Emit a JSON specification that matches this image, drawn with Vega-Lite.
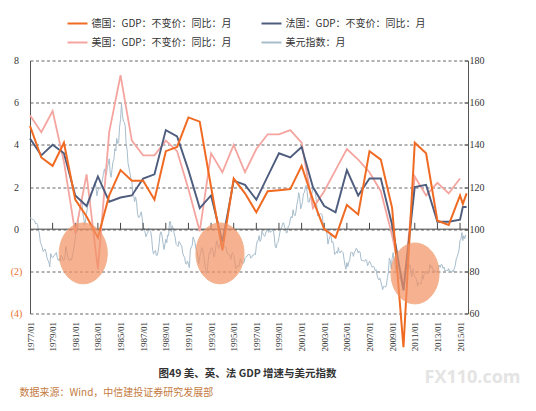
{
  "$schema": "https://vega.github.io/schema/vega-lite/v6.json",
  "width": 438,
  "height": 253,
  "autosize": {"type": "none"},
  "padding": {"left": 30, "top": 60.5, "right": 68, "bottom": 97.5},
  "background": "white",
  "config": {"view": {"stroke": null}, "axisX": {"labelOverlap": false}},
  "datasets": {
    "gdp": [
      {"d": "1977-01-01", "de": 4.9, "fr": 4.3, "us": 5.4},
      {"d": "1978-01-01", "de": 3.4, "fr": 3.5, "us": 4.6},
      {"d": "1979-01-01", "de": 3.0, "fr": 4.0, "us": 5.6},
      {"d": "1980-01-01", "de": 4.1, "fr": 3.6, "us": 3.2},
      {"d": "1981-01-01", "de": 1.4, "fr": 1.6, "us": -0.2},
      {"d": "1982-01-01", "de": 0.6, "fr": 1.1, "us": 2.6},
      {"d": "1983-01-01", "de": -0.4, "fr": 2.5, "us": -1.9},
      {"d": "1984-01-01", "de": 1.6, "fr": 1.3, "us": 4.6},
      {"d": "1985-01-01", "de": 2.8, "fr": 1.5, "us": 7.3},
      {"d": "1986-01-01", "de": 2.3, "fr": 1.6, "us": 4.2},
      {"d": "1987-01-01", "de": 2.3, "fr": 2.4, "us": 3.5},
      {"d": "1988-01-01", "de": 1.4, "fr": 2.6, "us": 3.5},
      {"d": "1989-01-01", "de": 3.7, "fr": 4.7, "us": 4.2},
      {"d": "1990-01-01", "de": 3.9, "fr": 4.4, "us": 3.7},
      {"d": "1991-01-01", "de": 5.3, "fr": 2.8, "us": 1.9},
      {"d": "1992-01-01", "de": 5.1, "fr": 1.0, "us": -0.1},
      {"d": "1993-01-01", "de": 2.0, "fr": 1.6, "us": 3.6},
      {"d": "1994-01-01", "de": -1.0, "fr": -0.6, "us": 2.7},
      {"d": "1995-01-01", "de": 2.4, "fr": 2.3, "us": 4.0},
      {"d": "1996-01-01", "de": 1.7, "fr": 2.1, "us": 2.7},
      {"d": "1997-01-01", "de": 0.8, "fr": 1.4, "us": 3.8},
      {"d": "1998-01-01", "de": 1.8, "fr": 2.5, "us": 4.5},
      {"d": "1999-01-01", "de": 1.85, "fr": 3.6, "us": 4.5},
      {"d": "2000-01-01", "de": 1.9, "fr": 3.4, "us": 4.7},
      {"d": "2001-01-01", "de": 3.0, "fr": 3.9, "us": 4.1},
      {"d": "2002-01-01", "de": 1.4, "fr": 2.0, "us": 1.0},
      {"d": "2003-01-01", "de": 0.0, "fr": 1.1, "us": 1.8},
      {"d": "2004-01-01", "de": -0.4, "fr": 0.8, "us": 2.8},
      {"d": "2005-01-01", "de": 1.15, "fr": 2.8, "us": 3.8},
      {"d": "2006-01-01", "de": 0.7, "fr": 1.6, "us": 3.3},
      {"d": "2007-01-01", "de": 3.7, "fr": 2.4, "us": 2.7},
      {"d": "2008-01-01", "de": 3.3, "fr": 2.4, "us": 1.8},
      {"d": "2009-01-01", "de": 1.0, "fr": 0.2, "us": -0.3},
      {"d": "2010-01-01", "de": -5.6, "fr": -2.9, "us": -2.8},
      {"d": "2011-01-01", "de": 4.1, "fr": 2.0, "us": 2.5},
      {"d": "2012-01-01", "de": 3.6, "fr": 2.1, "us": 1.6},
      {"d": "2013-01-01", "de": 0.4, "fr": 0.35, "us": 2.2},
      {"d": "2014-01-01", "de": 0.2, "fr": 0.35, "us": 1.7},
      {"d": "2015-01-01", "de": 1.6, "fr": 0.45, "us": 2.4},
      {"d": "2015-04-01", "de": 1.2, "fr": 1.05},
      {"d": "2015-08-01", "de": 1.7, "fr": 1.05}
    ],
    "dxy": [
      {"d":"1977-01","u":105.4},{"d":"1977-02","u":105.2},{"d":"1977-03","u":104.8},{"d":"1977-04","u":104.6},{"d":"1977-05","u":104.3},{"d":"1977-06","u":103.9},{"d":"1977-07","u":102.4},{"d":"1977-08","u":102.9},{"d":"1977-09","u":102.2},{"d":"1977-10","u":99.6},{"d":"1977-11","u":97.8},{"d":"1977-12","u":93.8},
      {"d":"1978-01","u":92.6},{"d":"1978-02","u":91.4},{"d":"1978-03","u":89.4},{"d":"1978-04","u":90.2},{"d":"1978-05","u":90.6},{"d":"1978-06","u":89.1},{"d":"1978-07","u":86.6},{"d":"1978-08","u":85.3},{"d":"1978-09","u":84.4},{"d":"1978-10","u":82.1},{"d":"1978-11","u":88.4},{"d":"1978-12","u":86.9},
      {"d":"1979-01","u":86.4},{"d":"1979-02","u":87.3},{"d":"1979-03","u":87.5},{"d":"1979-04","u":88.4},{"d":"1979-05","u":88.9},{"d":"1979-06","u":86.5},{"d":"1979-07","u":85.2},{"d":"1979-08","u":86.0},{"d":"1979-09","u":84.7},{"d":"1979-10","u":87.5},{"d":"1979-11","u":86.9},{"d":"1979-12","u":85.3},
      {"d":"1980-01","u":85.2},{"d":"1980-02","u":86.3},{"d":"1980-03","u":91.9},{"d":"1980-04","u":89.7},{"d":"1980-05","u":87.3},{"d":"1980-06","u":85.3},{"d":"1980-07","u":85.0},{"d":"1980-08","u":86.1},{"d":"1980-09","u":85.3},{"d":"1980-10","u":87.5},{"d":"1980-11","u":89.7},{"d":"1980-12","u":92.4},
      {"d":"1981-01","u":95.7},{"d":"1981-02","u":99.4},{"d":"1981-03","u":98.6},{"d":"1981-04","u":102.3},{"d":"1981-05","u":107.6},{"d":"1981-06","u":109.1},{"d":"1981-07","u":113.0},{"d":"1981-08","u":114.6},{"d":"1981-09","u":107.6},{"d":"1981-10","u":105.3},{"d":"1981-11","u":101.9},{"d":"1981-12","u":104.5},
      {"d":"1982-01","u":107.6},{"d":"1982-02","u":110.5},{"d":"1982-03","u":112.7},{"d":"1982-04","u":113.4},{"d":"1982-05","u":112.6},{"d":"1982-06","u":117.6},{"d":"1982-07","u":117.4},{"d":"1982-08","u":118.9},{"d":"1982-09","u":121.3},{"d":"1982-10","u":122.5},{"d":"1982-11","u":119.7},{"d":"1982-12","u":115.8},
      {"d":"1983-01","u":118.2},{"d":"1983-02","u":119.3},{"d":"1983-03","u":119.5},{"d":"1983-04","u":119.2},{"d":"1983-05","u":121.6},{"d":"1983-06","u":123.8},{"d":"1983-07","u":126.4},{"d":"1983-08","u":128.6},{"d":"1983-09","u":126.0},{"d":"1983-10","u":125.8},{"d":"1983-11","u":129.4},{"d":"1983-12","u":131.0},
      {"d":"1984-01","u":133.4},{"d":"1984-02","u":127.0},{"d":"1984-03","u":124.6},{"d":"1984-04","u":128.3},{"d":"1984-05","u":131.8},{"d":"1984-06","u":133.2},{"d":"1984-07","u":138.2},{"d":"1984-08","u":137.1},{"d":"1984-09","u":143.0},{"d":"1984-10","u":140.6},{"d":"1984-11","u":141.1},{"d":"1984-12","u":148.4},
      {"d":"1985-01","u":152.0},{"d":"1985-02","u":159.6},{"d":"1985-03","u":154.7},{"d":"1985-04","u":151.2},{"d":"1985-05","u":150.8},{"d":"1985-06","u":148.9},{"d":"1985-07","u":140.2},{"d":"1985-08","u":137.7},{"d":"1985-09","u":131.2},{"d":"1985-10","u":129.0},{"d":"1985-11","u":126.6},{"d":"1985-12","u":123.9},
      {"d":"1986-01","u":122.8},{"d":"1986-02","u":116.7},{"d":"1986-03","u":116.0},{"d":"1986-04","u":113.0},{"d":"1986-05","u":115.3},{"d":"1986-06","u":113.2},{"d":"1986-07","u":107.6},{"d":"1986-08","u":105.6},{"d":"1986-09","u":105.7},{"d":"1986-10","u":106.8},{"d":"1986-11","u":108.2},{"d":"1986-12","u":105.2},
      {"d":"1987-01","u":99.8},{"d":"1987-02","u":100.6},{"d":"1987-03","u":98.7},{"d":"1987-04","u":96.4},{"d":"1987-05","u":97.7},{"d":"1987-06","u":98.3},{"d":"1987-07","u":100.5},{"d":"1987-08","u":99.4},{"d":"1987-09","u":98.8},{"d":"1987-10","u":96.2},{"d":"1987-11","u":90.5},{"d":"1987-12","u":88.2},
      {"d":"1988-01","u":89.4},{"d":"1988-02","u":89.9},{"d":"1988-03","u":87.6},{"d":"1988-04","u":87.6},{"d":"1988-05","u":89.6},{"d":"1988-06","u":93.3},{"d":"1988-07","u":97.7},{"d":"1988-08","u":98.8},{"d":"1988-09","u":96.9},{"d":"1988-10","u":93.6},{"d":"1988-11","u":90.4},{"d":"1988-12","u":92.5},
      {"d":"1989-01","u":95.2},{"d":"1989-02","u":93.6},{"d":"1989-03","u":97.2},{"d":"1989-04","u":96.9},{"d":"1989-05","u":103.5},{"d":"1989-06","u":103.6},{"d":"1989-07","u":98.8},{"d":"1989-08","u":101.6},{"d":"1989-09","u":100.0},{"d":"1989-10","u":97.7},{"d":"1989-11","u":96.0},{"d":"1989-12","u":92.8},
      {"d":"1990-01","u":92.3},{"d":"1990-02","u":91.8},{"d":"1990-03","u":94.2},{"d":"1990-04","u":93.5},{"d":"1990-05","u":92.5},{"d":"1990-06","u":92.0},{"d":"1990-07","u":88.6},{"d":"1990-08","u":87.3},{"d":"1990-09","u":86.7},{"d":"1990-10","u":83.7},{"d":"1990-11","u":83.4},{"d":"1990-12","u":84.9},
      {"d":"1991-01","u":83.4},{"d":"1991-02","u":81.7},{"d":"1991-03","u":89.8},{"d":"1991-04","u":91.6},{"d":"1991-05","u":92.1},{"d":"1991-06","u":96.3},{"d":"1991-07","u":95.0},{"d":"1991-08","u":93.6},{"d":"1991-09","u":90.6},{"d":"1991-10","u":89.8},{"d":"1991-11","u":86.5},{"d":"1991-12","u":83.7},
      {"d":"1992-01","u":86.9},{"d":"1992-02","u":88.9},{"d":"1992-03","u":91.2},{"d":"1992-04","u":90.7},{"d":"1992-05","u":88.2},{"d":"1992-06","u":85.0},{"d":"1992-07","u":81.6},{"d":"1992-08","u":79.0},{"d":"1992-09","u":80.1},{"d":"1992-10","u":85.3},{"d":"1992-11","u":88.8},{"d":"1992-12","u":88.5},
      {"d":"1993-01","u":90.9},{"d":"1993-02","u":91.2},{"d":"1993-03","u":89.6},{"d":"1993-04","u":86.7},{"d":"1993-05","u":87.9},{"d":"1993-06","u":91.8},{"d":"1993-07","u":94.5},{"d":"1993-08","u":92.6},{"d":"1993-09","u":90.8},{"d":"1993-10","u":92.5},{"d":"1993-11","u":93.6},{"d":"1993-12","u":93.2},
      {"d":"1994-01","u":94.2},{"d":"1994-02","u":92.8},{"d":"1994-03","u":91.9},{"d":"1994-04","u":91.3},{"d":"1994-05","u":91.5},{"d":"1994-06","u":88.8},{"d":"1994-07","u":88.1},{"d":"1994-08","u":88.1},{"d":"1994-09","u":87.3},{"d":"1994-10","u":85.7},{"d":"1994-11","u":88.5},{"d":"1994-12","u":88.8},
      {"d":"1995-01","u":87.5},{"d":"1995-02","u":85.4},{"d":"1995-03","u":81.2},{"d":"1995-04","u":81.5},{"d":"1995-05","u":82.8},{"d":"1995-06","u":82.3},{"d":"1995-07","u":82.6},{"d":"1995-08","u":86.0},{"d":"1995-09","u":84.9},{"d":"1995-10","u":84.0},{"d":"1995-11","u":83.8},{"d":"1995-12","u":84.1},
      {"d":"1996-01","u":86.4},{"d":"1996-02","u":86.9},{"d":"1996-03","u":87.0},{"d":"1996-04","u":87.8},{"d":"1996-05","u":88.0},{"d":"1996-06","u":88.0},{"d":"1996-07","u":86.3},{"d":"1996-08","u":86.5},{"d":"1996-09","u":87.6},{"d":"1996-10","u":87.6},{"d":"1996-11","u":88.3},{"d":"1996-12","u":87.9},
      {"d":"1997-01","u":92.1},{"d":"1997-02","u":94.4},{"d":"1997-03","u":94.6},{"d":"1997-04","u":96.9},{"d":"1997-05","u":94.2},{"d":"1997-06","u":95.1},{"d":"1997-07","u":99.2},{"d":"1997-08","u":98.0},{"d":"1997-09","u":97.0},{"d":"1997-10","u":96.6},{"d":"1997-11","u":98.2},{"d":"1997-12","u":99.6},
      {"d":"1998-01","u":99.8},{"d":"1998-02","u":98.5},{"d":"1998-03","u":100.0},{"d":"1998-04","u":98.5},{"d":"1998-05","u":99.0},{"d":"1998-06","u":99.3},{"d":"1998-07","u":99.6},{"d":"1998-08","u":96.8},{"d":"1998-09","u":91.9},{"d":"1998-10","u":91.1},{"d":"1998-11","u":93.3},{"d":"1998-12","u":93.8},
      {"d":"1999-01","u":96.0},{"d":"1999-02","u":98.6},{"d":"1999-03","u":100.1},{"d":"1999-04","u":101.0},{"d":"1999-05","u":102.8},{"d":"1999-06","u":103.0},{"d":"1999-07","u":100.9},{"d":"1999-08","u":100.3},{"d":"1999-09","u":98.1},{"d":"1999-10","u":98.7},{"d":"1999-11","u":101.6},{"d":"1999-12","u":101.9},
      {"d":"2000-01","u":104.8},{"d":"2000-02","u":106.0},{"d":"2000-03","u":105.3},{"d":"2000-04","u":109.2},{"d":"2000-05","u":106.8},{"d":"2000-06","u":106.3},{"d":"2000-07","u":108.1},{"d":"2000-08","u":111.7},{"d":"2000-09","u":113.9},{"d":"2000-10","u":117.3},{"d":"2000-11","u":114.7},{"d":"2000-12","u":109.6},
      {"d":"2001-01","u":110.9},{"d":"2001-02","u":113.2},{"d":"2001-03","u":117.0},{"d":"2001-04","u":117.3},{"d":"2001-05","u":119.9},{"d":"2001-06","u":120.8},{"d":"2001-07","u":117.2},{"d":"2001-08","u":112.9},{"d":"2001-09","u":112.8},{"d":"2001-10","u":115.0},{"d":"2001-11","u":116.2},{"d":"2001-12","u":116.8},
      {"d":"2002-01","u":120.2},{"d":"2002-02","u":118.6},{"d":"2002-03","u":118.7},{"d":"2002-04","u":116.2},{"d":"2002-05","u":112.0},{"d":"2002-06","u":106.2},{"d":"2002-07","u":106.7},{"d":"2002-08","u":107.0},{"d":"2002-09","u":107.3},{"d":"2002-10","u":107.3},{"d":"2002-11","u":106.3},{"d":"2002-12","u":102.0},
      {"d":"2003-01","u":100.7},{"d":"2003-02","u":99.5},{"d":"2003-03","u":99.5},{"d":"2003-04","u":97.6},{"d":"2003-05","u":92.9},{"d":"2003-06","u":95.0},{"d":"2003-07","u":96.5},{"d":"2003-08","u":98.0},{"d":"2003-09","u":93.7},{"d":"2003-10","u":94.2},{"d":"2003-11","u":92.6},{"d":"2003-12","u":88.0},
      {"d":"2004-01","u":88.5},{"d":"2004-02","u":89.4},{"d":"2004-03","u":88.5},{"d":"2004-04","u":91.3},{"d":"2004-05","u":89.2},{"d":"2004-06","u":88.7},{"d":"2004-07","u":89.7},{"d":"2004-08","u":89.4},{"d":"2004-09","u":88.9},{"d":"2004-10","u":85.8},{"d":"2004-11","u":82.9},{"d":"2004-12","u":81.0},
      {"d":"2005-01","u":84.1},{"d":"2005-02","u":82.2},{"d":"2005-03","u":84.4},{"d":"2005-04","u":84.9},{"d":"2005-05","u":88.7},{"d":"2005-06","u":89.2},{"d":"2005-07","u":88.7},{"d":"2005-08","u":87.1},{"d":"2005-09","u":89.3},{"d":"2005-10","u":89.6},{"d":"2005-11","u":91.0},{"d":"2005-12","u":90.3},
      {"d":"2006-01","u":88.7},{"d":"2006-02","u":89.6},{"d":"2006-03","u":89.2},{"d":"2006-04","u":85.9},{"d":"2006-05","u":85.0},{"d":"2006-06","u":85.3},{"d":"2006-07","u":84.8},{"d":"2006-08","u":84.8},{"d":"2006-09","u":85.6},{"d":"2006-10","u":85.0},{"d":"2006-11","u":82.7},{"d":"2006-12","u":83.6},
      {"d":"2007-01","u":84.8},{"d":"2007-02","u":84.0},{"d":"2007-03","u":82.9},{"d":"2007-04","u":81.9},{"d":"2007-05","u":82.5},{"d":"2007-06","u":82.0},{"d":"2007-07","u":80.4},{"d":"2007-08","u":80.9},{"d":"2007-09","u":78.2},{"d":"2007-10","u":76.8},{"d":"2007-11","u":75.9},{"d":"2007-12","u":76.7},
      {"d":"2008-01","u":75.2},{"d":"2008-02","u":73.3},{"d":"2008-03","u":71.3},{"d":"2008-04","u":72.9},{"d":"2008-05","u":72.9},{"d":"2008-06","u":72.5},{"d":"2008-07","u":73.5},{"d":"2008-08","u":77.1},{"d":"2008-09","u":79.3},{"d":"2008-10","u":86.3},{"d":"2008-11","u":85.2},{"d":"2008-12","u":81.3},
      {"d":"2009-01","u":86.1},{"d":"2009-02","u":88.9},{"d":"2009-03","u":85.5},{"d":"2009-04","u":84.2},{"d":"2009-05","u":80.4},{"d":"2009-06","u":80.2},{"d":"2009-07","u":78.9},{"d":"2009-08","u":78.3},{"d":"2009-09","u":76.7},{"d":"2009-10","u":75.9},{"d":"2009-11","u":74.8},{"d":"2009-12","u":77.9},
      {"d":"2010-01","u":79.4},{"d":"2010-02","u":80.3},{"d":"2010-03","u":81.1},{"d":"2010-04","u":81.8},{"d":"2010-05","u":86.7},{"d":"2010-06","u":86.1},{"d":"2010-07","u":81.8},{"d":"2010-08","u":83.1},{"d":"2010-09","u":78.7},{"d":"2010-10","u":77.4},{"d":"2010-11","u":81.2},{"d":"2010-12","u":79.0},
      {"d":"2011-01","u":77.3},{"d":"2011-02","u":76.9},{"d":"2011-03","u":76.0},{"d":"2011-04","u":73.0},{"d":"2011-05","u":74.6},{"d":"2011-06","u":74.3},{"d":"2011-07","u":74.2},{"d":"2011-08","u":74.2},{"d":"2011-09","u":78.5},{"d":"2011-10","u":76.3},{"d":"2011-11","u":78.7},{"d":"2011-12","u":80.2},
      {"d":"2012-01","u":79.0},{"d":"2012-02","u":78.8},{"d":"2012-03","u":79.1},{"d":"2012-04","u":79.4},{"d":"2012-05","u":83.3},{"d":"2012-06","u":81.6},{"d":"2012-07","u":82.6},{"d":"2012-08","u":81.2},{"d":"2012-09","u":79.9},{"d":"2012-10","u":80.2},{"d":"2012-11","u":80.2},{"d":"2012-12","u":79.8},
      {"d":"2013-01","u":79.3},{"d":"2013-02","u":81.9},{"d":"2013-03","u":83.0},{"d":"2013-04","u":81.8},{"d":"2013-05","u":83.3},{"d":"2013-06","u":83.1},{"d":"2013-07","u":81.4},{"d":"2013-08","u":82.1},{"d":"2013-09","u":80.2},{"d":"2013-10","u":80.2},{"d":"2013-11","u":80.7},{"d":"2013-12","u":80.2},
      {"d":"2014-01","u":81.3},{"d":"2014-02","u":79.8},{"d":"2014-03","u":80.1},{"d":"2014-04","u":79.5},{"d":"2014-05","u":80.4},{"d":"2014-06","u":79.8},{"d":"2014-07","u":81.5},{"d":"2014-08","u":82.8},{"d":"2014-09","u":85.9},{"d":"2014-10","u":86.9},{"d":"2014-11","u":88.4},{"d":"2014-12","u":90.3},
      {"d":"2015-01","u":94.8},{"d":"2015-02","u":95.3},{"d":"2015-03","u":98.4},{"d":"2015-04","u":94.6},{"d":"2015-05","u":96.9},{"d":"2015-06","u":95.5},{"d":"2015-07","u":97.3}
    ],
    "ticks": [
      {"t":"1979-01-01"},{"t":"1981-01-01"},{"t":"1983-01-01"},{"t":"1985-01-01"},{"t":"1987-01-01"},{"t":"1989-01-01"},{"t":"1991-01-01"},{"t":"1993-01-01"},{"t":"1995-01-01"},{"t":"1997-01-01"},{"t":"1999-01-01"},{"t":"2001-01-01"},{"t":"2003-01-01"},{"t":"2005-01-01"},{"t":"2007-01-01"},{"t":"2009-01-01"},{"t":"2011-01-01"},{"t":"2013-01-01"},{"t":"2015-01-01"}
    ],
    "circles": [
      {"d": "1981-09-15", "v": -1.15},
      {"d": "1993-10-15", "v": -1.15},
      {"d": "2011-01-10", "v": -2.1}
    ],
    "zero": [{"z": 0}]
  },
  "layer": [
    {
      "data": {"name": "dxy"},
      "mark": {"type": "line", "strokeWidth": 1},
      "encoding": {
        "x": {
          "field": "d", "type": "temporal",
          "title": "图49   美、英、法 GDP 增速与美元指数",
          "scale": {"type": "utc", "domain": [{"year": 1977, "month": 1, "date": 1, "utc": true}, {"year": 2015, "month": 9, "date": 15, "utc": true}]},
          "axis": {
            "values": [
              {"year":1977,"month":1,"date":1,"utc":true},{"year":1979,"month":1,"date":1,"utc":true},{"year":1981,"month":1,"date":1,"utc":true},{"year":1983,"month":1,"date":1,"utc":true},{"year":1985,"month":1,"date":1,"utc":true},{"year":1987,"month":1,"date":1,"utc":true},{"year":1989,"month":1,"date":1,"utc":true},{"year":1991,"month":1,"date":1,"utc":true},{"year":1993,"month":1,"date":1,"utc":true},{"year":1995,"month":1,"date":1,"utc":true},{"year":1997,"month":1,"date":1,"utc":true},{"year":1999,"month":1,"date":1,"utc":true},{"year":2001,"month":1,"date":1,"utc":true},{"year":2003,"month":1,"date":1,"utc":true},{"year":2005,"month":1,"date":1,"utc":true},{"year":2007,"month":1,"date":1,"utc":true},{"year":2009,"month":1,"date":1,"utc":true},{"year":2011,"month":1,"date":1,"utc":true},{"year":2013,"month":1,"date":1,"utc":true},{"year":2015,"month":1,"date":1,"utc":true}
            ],
            "tickCount": 40,
            "format": "%Y/%m",
            "labelAngle": 270,
            "labelPadding": 8,
            "labelFont": "Liberation Serif",
            "labelFontSize": 9,
            "labelColor": "#333",
            "labelFlush": false,
            "labelOverlap": false,
            "labelBound": false,
            "ticks": false,
            "domain": false,
            "grid": false,
            "titleFont": "Noto Sans CJK SC",
            "titleFontSize": 10.5,
            "titleFontWeight": "bold",
            "titleColor": "#333",
            "titleAngle": 0,
            "titleAlign": "center",
            "titleBaseline": "middle",
            "titleX": 217,
            "titleY": 60
          }
        },
        "y": {
          "field": "u", "type": "quantitative",
          "title": "FX110.com",
          "scale": {"domain": [60, 180], "nice": false, "zero": false},
          "axis": {
            "orient": "right",
            "values": [60, 80, 100, 120, 140, 160, 180],
            "tickCount": 20,
            "format": "d",
            "grid": false,
            "domain": true,
            "domainColor": "#555",
            "ticks": true,
            "tickSize": -4,
            "tickColor": "#555",
            "labelPadding": 5,
            "labelFont": "Liberation Serif",
            "labelFontSize": 10,
            "labelColor": "#333",
            "titleFont": "Open Sans",
            "titleFontSize": 18,
            "titleFontWeight": "bold",
            "titleColor": "#e4e4e4",
            "titleAngle": 0,
            "titleAlign": "center",
            "titleBaseline": "middle",
            "titleX": 4,
            "titleY": 317
          }
        },
        "color": {"datum": "dxy"}
      }
    },
    {
      "data": {"name": "zero"},
      "mark": {"type": "rule", "color": "#444", "strokeWidth": 1},
      "encoding": {
        "y": {"field": "z", "type": "quantitative", "scale": {"domain": [-4, 8], "nice": false, "zero": false}, "axis": null}
      }
    },
    {
      "data": {"name": "ticks"},
      "mark": {"type": "rule", "color": "#444", "strokeWidth": 1},
      "encoding": {
        "x": {"field": "t", "type": "temporal"},
        "y": {"datum": 0, "scale": {"domain": [-4, 8], "nice": false, "zero": false}, "axis": null},
        "y2": {"datum": 0.3}
      }
    },
    {
      "data": {"name": "gdp"},
      "transform": [{"fold": ["us", "fr", "de"], "as": ["s", "v"]}],
      "mark": {"type": "line"},
      "encoding": {
        "x": {"field": "d", "type": "temporal"},
        "y": {
          "field": "v", "type": "quantitative",
          "title": "数据来源：Wind，中信建投证券研究发展部",
          "scale": {"domain": [-4, 8], "nice": false, "zero": false},
          "axis": {
            "orient": "left",
            "values": [-4, -2, 0, 2, 4, 6, 8],
            "tickCount": 20,
            "format": "d",
            "grid": true,
            "gridDash": [3, 2.5],
            "gridColor": "#555",
            "gridWidth": 0.9,
            "ticks": false,
            "domain": true,
            "domainColor": "#555",
            "labelAlign": "center",
            "labelPadding": 14,
            "labelFont": "Liberation Serif",
            "labelFontSize": 10,
            "labelColor": {"condition": {"test": "datum.value < 0", "value": "#e8702a"}, "value": "#333"},
            "labelExpr": "datum.value < 0 ? '(' + (-datum.value) + ')' : '' + datum.value",
            "titleFont": "Noto Sans CJK SC",
            "titleFontSize": 10,
            "titleFontWeight": "normal",
            "titleColor": "#c47b3f",
            "titleAngle": 0,
            "titleAlign": "left",
            "titleBaseline": "middle",
            "titleX": -11,
            "titleY": 332
          }
        },
        "color": {
          "field": "s", "type": "nominal",
          "scale": {"domain": ["de", "us", "fr", "dxy"], "range": ["#f06a22", "#f5a5a0", "#4e5d7e", "#a7bdcc"]},
          "legend": {
            "orient": "none",
            "legendX": 36.5,
            "legendY": -48,
            "columns": 2,
            "columnPadding": 25,
            "rowPadding": 3,
            "padding": 0,
            "title": null,
            "symbolType": "stroke",
            "symbolSize": 400,
            "symbolStrokeWidth": 2,
            "labelFont": "Noto Sans CJK SC",
            "labelFontSize": 10,
            "labelColor": "#333",
            "labelOffset": 3,
            "labelLimit": 300,
            "labelExpr": "datum.value == 'de' ? '德国：GDP：不变价：同比：月' : datum.value == 'fr' ? '法国：GDP：不变价：同比：月' : datum.value == 'us' ? '美国：GDP：不变价：同比：月' : '美元指数：月'"
          }
        },
        "strokeWidth": {
          "field": "s", "type": "nominal",
          "scale": {"domain": ["de", "fr", "us"], "range": [2, 1.8, 1.4]},
          "legend": null
        }
      }
    },
    {
      "data": {"name": "circles"},
      "mark": {
        "type": "point",
        "shape": "M -0.79 0 A 0.79 1 0 1 0 0.79 0 A 0.79 1 0 1 0 -0.79 0 Z",
        "size": 3700,
        "filled": true,
        "color": "#f39163",
        "opacity": 0.7,
        "stroke": "#ee9460",
        "strokeWidth": 1
      },
      "encoding": {
        "x": {"field": "d", "type": "temporal"},
        "y": {"field": "v", "type": "quantitative", "scale": {"domain": [-4, 8], "nice": false, "zero": false}, "axis": null}
      }
    }
  ],
  "resolve": {"scale": {"y": "independent"}, "axis": {"y": "independent"}}
}
